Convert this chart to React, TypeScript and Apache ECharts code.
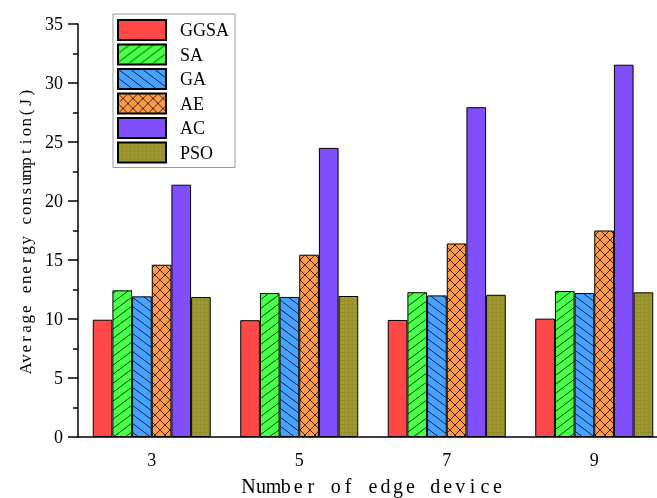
import React, { useEffect, useRef } from "react";
import * as echarts from "echarts";

// Energy consumption per algorithm for each edge-device count
const categories = ["3", "5", "7", "9"];
const seriesNames = ["GGSA", "SA", "GA", "AE", "AC", "PSO"];
const ggsa = [9.94, 9.9, 9.92, 10.03];
const sa = [12.43, 12.2, 12.27, 12.37];
const ga = [11.92, 11.87, 12.0, 12.2];
const ae = [14.6, 15.45, 16.4, 17.5];
const ac = [21.38, 24.5, 27.95, 31.55];
const pso = [11.86, 11.95, 12.05, 12.26];
const yTicks = [0, 5, 10, 15, 20, 25, 30, 35];

const SERIF = "'Liberation Serif', 'DejaVu Serif', serif";

// Lay each character out in a fixed-width cell (half-width CJK style spacing)
const cells = (s: string) =>
  s
    .split("")
    .map((ch) => `{c|${ch}}`)
    .join("");

const cellStyle = (size: number, pitch: number) => ({
  c: {
    fontFamily: SERIF,
    fontSize: size,
    color: "#000",
    width: pitch,
    align: "center" as const,
  },
});

type Painter = (ctx: CanvasRenderingContext2D, w: number, h: number) => void;

function makeTile(w: number, h: number, bg: string, paint?: Painter) {
  const c = document.createElement("canvas");
  c.width = w;
  c.height = h;
  const ctx = c.getContext("2d")!;
  ctx.fillStyle = bg;
  ctx.fillRect(0, 0, w, h);
  if (paint) paint(ctx, w, h);
  return { image: c, repeat: "repeat" as const };
}

function diag(ctx: CanvasRenderingContext2D, w: number, h: number, up: boolean) {
  ctx.strokeStyle = "rgba(0,0,0,0.85)";
  ctx.lineWidth = 0.9;
  ctx.beginPath();
  for (const dx of [-w, 0, w]) {
    if (up) {
      ctx.moveTo(dx, h);
      ctx.lineTo(dx + w, 0);
    } else {
      ctx.moveTo(dx, 0);
      ctx.lineTo(dx + w, h);
    }
  }
  ctx.stroke();
}

export default function App() {
  const ref = useRef<HTMLDivElement>(null);

  useEffect(() => {
    if (!ref.current) return;
    const chart = echarts.init(ref.current, undefined, { renderer: "svg" });

    const fills = [
      "#FF4848",
      makeTile(12, 9, "#48FF48", (ctx, w, h) => diag(ctx, w, h, true)),
      makeTile(12, 9, "#48A0FF", (ctx, w, h) => diag(ctx, w, h, false)),
      makeTile(10, 10, "#FF9A48", (ctx, w, h) => {
        diag(ctx, w, h, true);
        diag(ctx, w, h, false);
      }),
      makeTile(2, 2, "#7F48FA", (ctx) => {
        ctx.fillStyle = "#8452FF";
        ctx.fillRect(0, 0, 1, 1);
        ctx.fillRect(1, 1, 1, 1);
      }),
      makeTile(4, 4, "#A09A30", (ctx) => {
        ctx.fillStyle = "#938E2A";
        ctx.fillRect(0, 0, 4, 1);
        ctx.fillRect(0, 0, 1, 4);
      }),
    ];
    const values = [ggsa, sa, ga, ae, ac, pso];

    const series = seriesNames.map((name, i) => ({
      name,
      type: "bar" as const,
      data: values[i],
      barGap: "0%",
      barCategoryGap: "20%",
      itemStyle: {
        color: fills[i] as any,
        borderColor: "#000",
        borderWidth: 1,
      },
    }));

    chart.setOption({
      animation: false,
      // the last category runs past the right edge of the canvas
      grid: { left: 78, top: 24, width: 590, height: 413, outerBoundsMode: "none" },
      legend: {
        orient: "vertical",
        left: 113,
        top: 14,
        padding: [5, 6, 4, 4],
        itemWidth: 48,
        itemHeight: 20,
        itemGap: 2.5,
        borderColor: "#9a9a9a",
        borderWidth: 1,
        icon: "rect",
        textStyle: {
          fontFamily: SERIF,
          fontSize: 18,
          color: "#000",
          padding: [0, 0, 0, 9],
          lineHeight: 20,
          height: 20,
        },
        data: seriesNames,
      },
      xAxis: [
        {
          type: "category",
          data: categories,
          name: cells("Number of edge device"),
          nameLocation: "middle",
          nameGap: 39,
          nameTextStyle: { fontFamily: SERIF, fontSize: 20, color: "#000", rich: cellStyle(20, 12.45) },
          axisLine: { lineStyle: { color: "#000", width: 1.5 } },
          axisTick: { alignWithLabel: true, length: 8, lineStyle: { color: "#000", width: 1.5 } },
          axisLabel: { fontFamily: SERIF, fontSize: 18, color: "#000", margin: 14 },
        },
        {
          type: "category",
          data: categories,
          position: "bottom",
          axisLine: { show: false },
          axisTick: { length: 4, lineStyle: { color: "#000", width: 1.5 } },
          axisLabel: { show: false },
        },
      ],
      yAxis: {
        type: "value",
        min: 0,
        max: 35,
        interval: 5,
        name: cells("Average energy consumption(J)"),
        nameLocation: "middle",
        nameGap: 42,
        nameTextStyle: { fontFamily: SERIF, fontSize: 17, color: "#000", rich: cellStyle(17, 9.85) },
        axisLine: { show: true, lineStyle: { color: "#000", width: 1.5 } },
        axisTick: { show: true, length: 10, lineStyle: { color: "#000", width: 1.5 } },
        minorTick: { show: true, splitNumber: 2, length: 5, lineStyle: { color: "#000", width: 1.5 } },
        splitLine: { show: false },
        axisLabel: {
          fontFamily: SERIF,
          fontSize: 18,
          color: "#000",
          margin: 15,
          formatter: (v: number) => (yTicks.includes(v) ? String(v) : ""),
        },
      },
      series,
    });

    return () => chart.dispose();
  }, []);

  return (
    <div
      ref={ref}
      style={{ position: "fixed", left: 0, top: 0, width: 657, height: 498 }}
    />
  );
}
